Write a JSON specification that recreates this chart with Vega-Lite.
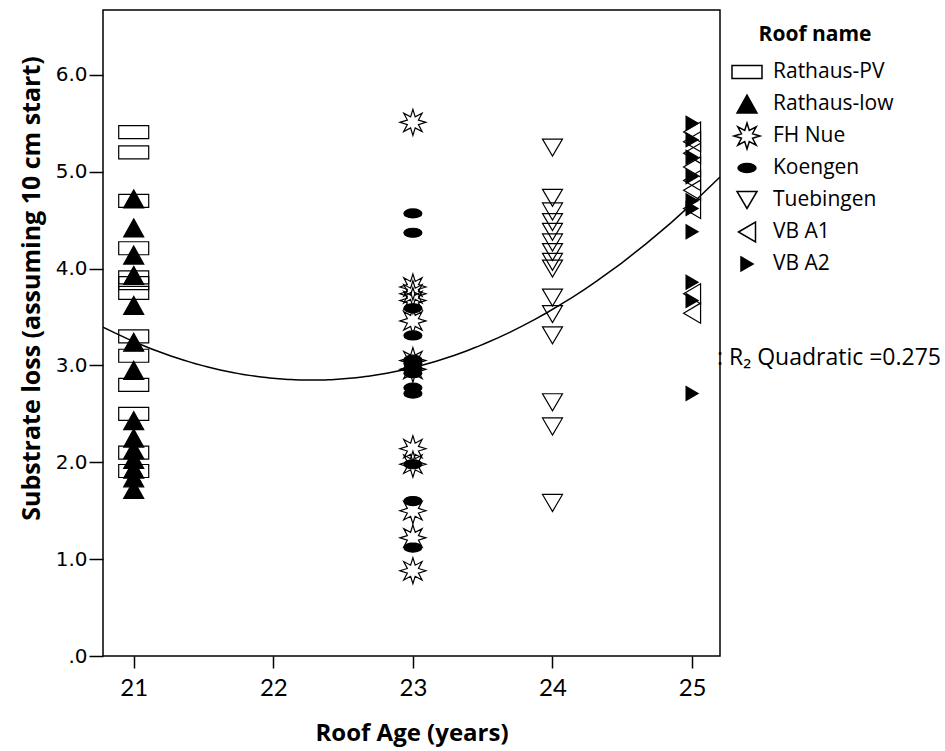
{
  "$schema": "https://vega.github.io/schema/vega-lite/v6.json",
  "width": 617,
  "height": 646,
  "autosize": {"type": "none"},
  "padding": {"left": 103, "top": 10, "right": 225, "bottom": 95},
  "background": "white",
  "config": {
    "view": {"stroke": "black", "strokeWidth": 1.5},
    "font": "Open Sans"
  },
  "datasets": {
    "pts": [
      {"roof": "Rathaus-PV", "age": 21, "loss": 5.41},
      {"roof": "Rathaus-PV", "age": 21, "loss": 5.20},
      {"roof": "Rathaus-PV", "age": 21, "loss": 4.70},
      {"roof": "Rathaus-PV", "age": 21, "loss": 4.21},
      {"roof": "Rathaus-PV", "age": 21, "loss": 3.91},
      {"roof": "Rathaus-PV", "age": 21, "loss": 3.85},
      {"roof": "Rathaus-PV", "age": 21, "loss": 3.75},
      {"roof": "Rathaus-PV", "age": 21, "loss": 3.30},
      {"roof": "Rathaus-PV", "age": 21, "loss": 3.10},
      {"roof": "Rathaus-PV", "age": 21, "loss": 2.80},
      {"roof": "Rathaus-PV", "age": 21, "loss": 2.50},
      {"roof": "Rathaus-PV", "age": 21, "loss": 2.10},
      {"roof": "Rathaus-PV", "age": 21, "loss": 1.91},
      {"roof": "Rathaus-low", "age": 21, "loss": 4.72},
      {"roof": "Rathaus-low", "age": 21, "loss": 4.42},
      {"roof": "Rathaus-low", "age": 21, "loss": 4.14},
      {"roof": "Rathaus-low", "age": 21, "loss": 3.93},
      {"roof": "Rathaus-low", "age": 21, "loss": 3.62},
      {"roof": "Rathaus-low", "age": 21, "loss": 3.24},
      {"roof": "Rathaus-low", "age": 21, "loss": 2.95},
      {"roof": "Rathaus-low", "age": 21, "loss": 2.43},
      {"roof": "Rathaus-low", "age": 21, "loss": 2.25},
      {"roof": "Rathaus-low", "age": 21, "loss": 2.13},
      {"roof": "Rathaus-low", "age": 21, "loss": 2.03},
      {"roof": "Rathaus-low", "age": 21, "loss": 1.93},
      {"roof": "Rathaus-low", "age": 21, "loss": 1.84},
      {"roof": "Rathaus-low", "age": 21, "loss": 1.72},
      {"roof": "FH Nue", "age": 23, "loss": 5.51},
      {"roof": "FH Nue", "age": 23, "loss": 3.81},
      {"roof": "FH Nue", "age": 23, "loss": 3.74},
      {"roof": "FH Nue", "age": 23, "loss": 3.67},
      {"roof": "FH Nue", "age": 23, "loss": 3.46},
      {"roof": "FH Nue", "age": 23, "loss": 3.05},
      {"roof": "FH Nue", "age": 23, "loss": 2.96},
      {"roof": "FH Nue", "age": 23, "loss": 2.14},
      {"roof": "FH Nue", "age": 23, "loss": 1.98},
      {"roof": "FH Nue", "age": 23, "loss": 1.50},
      {"roof": "FH Nue", "age": 23, "loss": 1.22},
      {"roof": "FH Nue", "age": 23, "loss": 0.88},
      {"roof": "Koengen", "age": 23, "loss": 4.57},
      {"roof": "Koengen", "age": 23, "loss": 4.37},
      {"roof": "Koengen", "age": 23, "loss": 3.59},
      {"roof": "Koengen", "age": 23, "loss": 3.31},
      {"roof": "Koengen", "age": 23, "loss": 3.06},
      {"roof": "Koengen", "age": 23, "loss": 3.02},
      {"roof": "Koengen", "age": 23, "loss": 2.97},
      {"roof": "Koengen", "age": 23, "loss": 2.92},
      {"roof": "Koengen", "age": 23, "loss": 2.77},
      {"roof": "Koengen", "age": 23, "loss": 2.71},
      {"roof": "Koengen", "age": 23, "loss": 1.98},
      {"roof": "Koengen", "age": 23, "loss": 1.60},
      {"roof": "Koengen", "age": 23, "loss": 1.12},
      {"roof": "Tuebingen", "age": 24, "loss": 5.25},
      {"roof": "Tuebingen", "age": 24, "loss": 4.73},
      {"roof": "Tuebingen", "age": 24, "loss": 4.59},
      {"roof": "Tuebingen", "age": 24, "loss": 4.48},
      {"roof": "Tuebingen", "age": 24, "loss": 4.38},
      {"roof": "Tuebingen", "age": 24, "loss": 4.27},
      {"roof": "Tuebingen", "age": 24, "loss": 4.17},
      {"roof": "Tuebingen", "age": 24, "loss": 4.07},
      {"roof": "Tuebingen", "age": 24, "loss": 4.00},
      {"roof": "Tuebingen", "age": 24, "loss": 3.70},
      {"roof": "Tuebingen", "age": 24, "loss": 3.53},
      {"roof": "Tuebingen", "age": 24, "loss": 3.31},
      {"roof": "Tuebingen", "age": 24, "loss": 2.62},
      {"roof": "Tuebingen", "age": 24, "loss": 2.37},
      {"roof": "Tuebingen", "age": 24, "loss": 1.58},
      {"roof": "VB A1", "age": 25, "loss": 5.41},
      {"roof": "VB A1", "age": 25, "loss": 5.31},
      {"roof": "VB A1", "age": 25, "loss": 5.19},
      {"roof": "VB A1", "age": 25, "loss": 5.05},
      {"roof": "VB A1", "age": 25, "loss": 4.91},
      {"roof": "VB A1", "age": 25, "loss": 4.81},
      {"roof": "VB A1", "age": 25, "loss": 4.62},
      {"roof": "VB A1", "age": 25, "loss": 3.74},
      {"roof": "VB A1", "age": 25, "loss": 3.54},
      {"roof": "VB A2", "age": 25, "loss": 5.50},
      {"roof": "VB A2", "age": 25, "loss": 5.33},
      {"roof": "VB A2", "age": 25, "loss": 5.15},
      {"roof": "VB A2", "age": 25, "loss": 4.95},
      {"roof": "VB A2", "age": 25, "loss": 4.70},
      {"roof": "VB A2", "age": 25, "loss": 4.62},
      {"roof": "VB A2", "age": 25, "loss": 4.38},
      {"roof": "VB A2", "age": 25, "loss": 3.86},
      {"roof": "VB A2", "age": 25, "loss": 3.67},
      {"roof": "VB A2", "age": 25, "loss": 2.71}
    ]
  },
  "layer": [
    {
      "data": {"name": "pts"},
      "mark": {"type": "point", "filled": true, "stroke": "black", "strokeWidth": 1.2, "size": 400, "opacity": 1},
      "encoding": {
        "x": {
          "field": "age", "type": "quantitative",
          "scale": {"domain": [20.78, 25.2], "nice": false, "zero": false},
          "axis": {
            "title": "Roof Age (years)", "values": [21, 22, 23, 24, 25], "format": "d",
            "grid": false, "domain": false, "tickColor": "black", "tickWidth": 1.5, "tickSize": 12,
            "labelFont": "Lato", "labelFontSize": 24, "labelColor": "black", "labelPadding": 8,
            "titleFont": "Open Sans", "titleFontSize": 24, "titleFontWeight": "bold", "titleColor": "black", "titlePadding": 21
          }
        },
        "y": {
          "field": "loss", "type": "quantitative",
          "scale": {"domain": [0, 6.67], "nice": false, "zero": true},
          "axis": {
            "title": "Substrate loss (assuming 10 cm start)", "values": [0, 1, 2, 3, 4, 5, 6],
            "labelExpr": "datum.value == 0 ? '.0' : format(datum.value, '.1f')",
            "grid": false, "domain": false, "tickColor": "black", "tickWidth": 1.5, "tickSize": 14,
            "labelFont": "DejaVu Sans", "labelFontSize": 20, "labelColor": "black", "labelPadding": 2,
            "titleFont": "Open Sans", "titleFontSize": 25, "titleFontWeight": "bold", "titleColor": "black", "titlePadding": 11,
            "titleY": 278
          }
        },
        "shape": {
          "field": "roof", "type": "nominal",
          "scale": {
            "domain": ["Rathaus-PV", "Rathaus-low", "FH Nue", "Koengen", "Tuebingen", "VB A1", "VB A2"],
            "range": [
              "M-1.5,-0.65H1.5V0.65H-1.5Z",
              "M0,-0.9L1,0.9H-1Z",
              "M0,-1.3L0.23,-0.554L0.919,-0.919L0.554,-0.23L1.3,0L0.554,0.23L0.919,0.919L0.23,0.554L0,1.3L-0.23,0.554L-0.919,0.919L-0.554,0.23L-1.3,0L-0.554,-0.23L-0.919,-0.919L-0.23,-0.554Z",
              "M-0.9,0A0.9,0.45 0 1,0 0.9,0A0.9,0.45 0 1,0 -0.9,0Z",
              "M-1,-0.85H1L0,0.85Z",
              "M-0.85,0L0.85,-1V1Z",
              "M-0.6,-0.7L0.6,0L-0.6,0.7Z"
            ]
          },
          "legend": {
            "title": "Roof name", "orient": "none", "legendX": 633, "legendY": 14,
            "titleFont": "Open Sans", "titleFontSize": 21, "titleFontWeight": "bold", "titleColor": "black",
            "titleAnchor": "middle", "titlePadding": 16,
            "labelFont": "Open Sans", "labelFontSize": 21, "labelColor": "black", "labelOffset": 15,
            "symbolSize": 400, "gridAlign": "all", "rowPadding": 0,
            "encode": {"symbols": {"update": {"x": {"value": 15}, "stroke": {"value": "black"}, "strokeWidth": {"value": 1.2}, "opacity": {"value": 1}}}}
          }
        },
        "fill": {
          "field": "roof", "type": "nominal",
          "scale": {
            "domain": ["Rathaus-PV", "Rathaus-low", "FH Nue", "Koengen", "Tuebingen", "VB A1", "VB A2"],
            "range": ["transparent", "black", "transparent", "black", "transparent", "transparent", "black"]
          },
          "legend": {
            "title": "Roof name", "orient": "none", "legendX": 633, "legendY": 14,
            "titleFont": "Open Sans", "titleFontSize": 21, "titleFontWeight": "bold", "titleColor": "black",
            "titleAnchor": "middle", "titlePadding": 16,
            "labelFont": "Open Sans", "labelFontSize": 21, "labelColor": "black", "labelOffset": 15,
            "symbolSize": 400, "gridAlign": "all", "rowPadding": 0,
            "encode": {"symbols": {"update": {"x": {"value": 15}, "stroke": {"value": "black"}, "strokeWidth": {"value": 1.2}, "opacity": {"value": 1}}}}
          }
        }
      }
    },
    {
      "data": {"name": "pts"},
      "transform": [
        {"regression": "loss", "on": "age", "method": "poly", "order": 2, "extent": [20.78, 25.2]}
      ],
      "mark": {"type": "line", "color": "black", "strokeWidth": 1.5, "clip": true},
      "encoding": {
        "x": {"field": "age", "type": "quantitative"},
        "y": {"field": "loss", "type": "quantitative"}
      }
    },
    {
      "data": {"values": [{}]},
      "mark": {"type": "text", "align": "left", "baseline": "middle", "font": "Open Sans", "fontSize": 23, "color": "black", "dx": -3},
      "encoding": {
        "x": {"datum": 25.2, "type": "quantitative"},
        "y": {"datum": 3.08, "type": "quantitative"},
        "text": {"value": ": R₂ Quadratic =0.275"}
      }
    }
  ]
}
